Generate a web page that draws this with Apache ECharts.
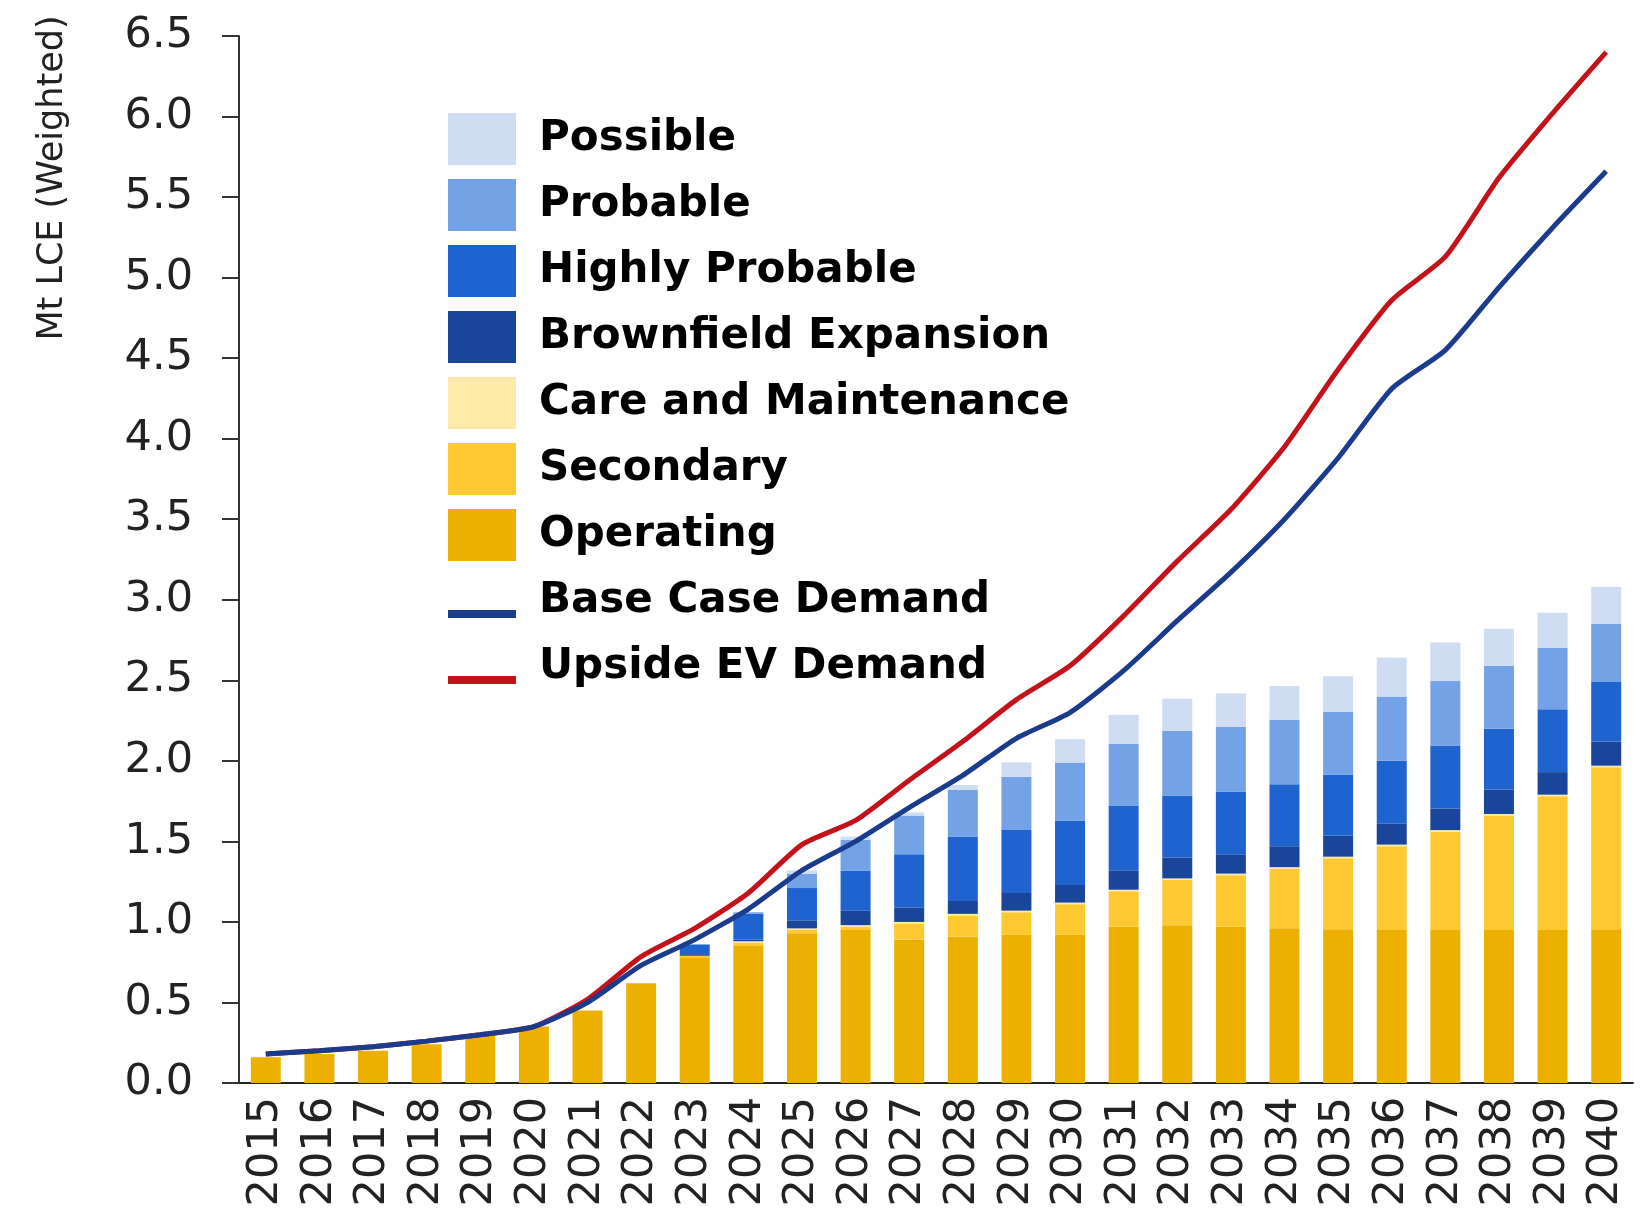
<!DOCTYPE html>
<html>
<head>
<meta charset="utf-8">
<script src="https://cdn.jsdelivr.net/npm/echarts@6/dist/echarts.min.js"></script>
<style>
  html, body { margin: 0; padding: 0; background: #fff; }
  #chart { width: 1648px; height: 1217px; }
</style>
</head>
<body>
<div id="chart"></div>
<script>
// Supply by project stage vs. demand, Mt LCE
var years = ['2015', '2016', '2017', '2018', '2019', '2020', '2021', '2022', '2023', '2024', '2025', '2026', '2027',
  '2028', '2029', '2030', '2031', '2032', '2033', '2034', '2035', '2036', '2037', '2038', '2039', '2040'];

var operating = [0.16, 0.18, 0.20, 0.24, 0.30, 0.35, 0.45, 0.62, 0.78, 0.85, 0.93, 0.95, 0.89,
  0.91, 0.92, 0.92, 0.97, 0.98, 0.97, 0.96, 0.955, 0.95, 0.95, 0.95, 0.95, 0.95];
var secondary = [0, 0, 0, 0, 0, 0, 0, 0, 0.01, 0.02, 0.02, 0.02, 0.10,
  0.13, 0.14, 0.19, 0.22, 0.28, 0.32, 0.37, 0.44, 0.52, 0.61, 0.71, 0.83, 1.01];
var careMaint = [0, 0, 0, 0, 0, 0, 0, 0, 0, 0.01, 0.01, 0.01, 0.01,
  0.01, 0.01, 0.01, 0.01, 0.01, 0.01, 0.01, 0.01, 0.01, 0.01, 0.01, 0.01, 0.01];
var brownfield = [0, 0, 0, 0, 0, 0, 0, 0, 0.01, 0.01, 0.05, 0.09, 0.09,
  0.08, 0.11, 0.11, 0.12, 0.13, 0.12, 0.13, 0.13, 0.13, 0.135, 0.15, 0.14, 0.15];
var highlyProbable = [0, 0, 0, 0, 0, 0, 0, 0, 0.06, 0.16, 0.20, 0.25, 0.33,
  0.40, 0.39, 0.40, 0.40, 0.385, 0.39, 0.385, 0.38, 0.39, 0.39, 0.38, 0.39, 0.37];
var probable = [0, 0, 0, 0, 0, 0, 0, 0, 0, 0.01, 0.09, 0.19, 0.24,
  0.29, 0.33, 0.36, 0.385, 0.40, 0.40, 0.40, 0.39, 0.40, 0.40, 0.39, 0.38, 0.36];
var possible = [0, 0, 0, 0, 0, 0, 0, 0, 0, 0, 0.02, 0.02, 0.02,
  0.03, 0.09, 0.145, 0.18, 0.20, 0.21, 0.21, 0.22, 0.24, 0.24, 0.23, 0.22, 0.23];

var baseCase = [0.18, 0.20, 0.225, 0.26, 0.30, 0.35, 0.50, 0.73, 0.89, 1.08, 1.32, 1.50, 1.71,
  1.91, 2.14, 2.30, 2.56, 2.87, 3.17, 3.50, 3.88, 4.31, 4.55, 4.94, 5.31, 5.66];
var upsideEV = [0.18, 0.20, 0.225, 0.26, 0.30, 0.35, 0.52, 0.785, 0.96, 1.18, 1.48, 1.63, 1.88,
  2.12, 2.38, 2.59, 2.90, 3.24, 3.56, 3.95, 4.43, 4.86, 5.13, 5.62, 6.02, 6.40];

var chart = echarts.init(document.getElementById('chart'));

// line icon drawn low in the legend box (tiny corner dots keep the box height)
var lineIcon = 'path://M0,0h0.1v0.1h-0.1z M0,52h0.1v-0.1h-0.1z M0,35h100v8h-100z';

function barSeries(name, data, color) {
  return {
    name: name,
    type: 'bar',
    stack: 'supply',
    barWidth: 30,
    data: data,
    itemStyle: { color: color }
  };
}

var option = {
  animation: false,
  backgroundColor: '#fff',
  grid: { left: 239, right: 15, top: 36, bottom: 134 },
  legend: {
    orient: 'vertical',
    left: 443,
    top: 108,
    itemWidth: 68,
    itemHeight: 52,
    itemGap: 14,
    symbolKeepAspect: false,
    textStyle: { fontFamily: 'DejaVu Sans', fontWeight: 'bold', fontSize: 42, color: '#000', padding: [0, 0, 0, 18] },
    data: [
      { name: 'Possible', icon: 'rect' },
      { name: 'Probable', icon: 'rect' },
      { name: 'Highly Probable', icon: 'rect' },
      { name: 'Brownfield Expansion', icon: 'rect' },
      { name: 'Care and Maintenance', icon: 'rect' },
      { name: 'Secondary', icon: 'rect' },
      { name: 'Operating', icon: 'rect' },
      { name: 'Base Case Demand', icon: lineIcon },
      { name: 'Upside EV Demand', icon: lineIcon }
    ]
  },
  graphic: [{
    type: 'text',
    x: 53,
    y: 178,
    rotation: Math.PI / 2,
    style: {
      text: 'Mt LCE (Weighted)',
      fontFamily: 'DejaVu Sans',
      fontSize: 35,
      fill: '#222',
      align: 'center',
      verticalAlign: 'middle'
    }
  }],
  xAxis: {
    type: 'category',
    data: years,
    axisLine: { lineStyle: { color: '#222', width: 2 } },
    axisTick: { show: false },
    axisLabel: { interval: 0, hideOverlap: false, rotate: 90, margin: 14, fontFamily: 'DejaVu Sans', fontSize: 43, color: '#222' }
  },
  yAxis: {
    type: 'value',
    min: 0,
    max: 6.5,
    interval: 0.5,
    splitLine: { show: false },
    axisLine: { show: true, lineStyle: { color: '#333', width: 2 } },
    axisTick: { show: true, length: 17, lineStyle: { color: '#333', width: 2 } },
    axisLabel: {
      margin: 46,
      fontFamily: 'DejaVu Sans',
      fontSize: 43,
      color: '#222',
      formatter: function (v) { return v.toFixed(1); }
    }
  },
  series: [
    barSeries('Operating', operating, '#ECB100'),
    barSeries('Secondary', secondary, '#FDC830'),
    barSeries('Care and Maintenance', careMaint, '#FDE9A9'),
    barSeries('Brownfield Expansion', brownfield, '#19469A'),
    barSeries('Highly Probable', highlyProbable, '#1F63CF'),
    barSeries('Probable', probable, '#74A2E6'),
    barSeries('Possible', possible, '#CFDDF4'),
    {
      name: 'Upside EV Demand',
      type: 'line',
      data: upsideEV,
      smooth: 0.2,
      symbol: 'none',
      z: 3,
      itemStyle: { color: '#C4121A' },
      lineStyle: { color: '#C4121A', width: 5 }
    },
    {
      name: 'Base Case Demand',
      type: 'line',
      data: baseCase,
      smooth: 0.2,
      symbol: 'none',
      z: 4,
      itemStyle: { color: '#1B3C8C' },
      lineStyle: { color: '#1B3C8C', width: 5 }
    }
  ]
};

chart.setOption(option);
</script>
</body>
</html>
